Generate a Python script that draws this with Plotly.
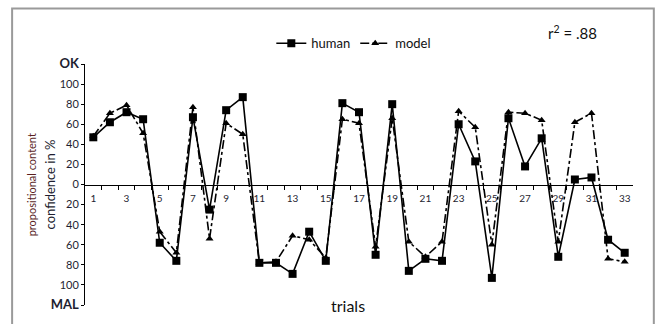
import plotly.graph_objects as go

trials = list(range(1, 34))
human = [47, 62, 72, 65, -58, -76, 67, -25, 74, 87, -78, -78, -89, -47, -76, 81, 72, -70,
         80, -86, -74, -76, 60, 23, -93, 66, 18, 46, -72, 5, 7, -55, -68]
model = [48, 71, 79, 51, -47, -68, 77, -54, 61, 50, -78, -77, -51, -55, -73, 65, 61, -62,
         66, -57, -72, -57, 73, 57, -60, 72, 71, 64, -57, 62, 71, -74, -77]

y_tickvals = list(range(-120, 121, 20))
y_ticktext = ["<b><span style='font-size:13px'>MAL</span></b>", "100", "80", "60", "40", "20", "0",
              "20", "40", "60", "80", "100", "<b><span style='font-size:13px'>OK</span></b>"]
x_labels = list(range(1, 34, 2))
x_minor = [i + 0.5 for i in range(1, 33)]

FONT = "Lato, 'Open Sans', sans-serif"
TXT = "#1e1e30"

fig = go.Figure()
fig.add_trace(go.Scatter(
    x=trials, y=human, name="human", mode="lines+markers",
    line=dict(color="black", width=1.6),
    marker=dict(symbol="square", size=8, color="black"),
))
fig.add_trace(go.Scatter(
    x=trials, y=model, name="model", mode="lines+markers",
    line=dict(color="black", width=1.6, dash="dashdot"),
    marker=dict(symbol="triangle-up", size=7, color="black"),
))

fig.update_layout(
    width=657, height=324,
    margin=dict(l=85, r=24, t=64, b=17),
    paper_bgcolor="white", plot_bgcolor="white",
    font=dict(family=FONT, color=TXT, size=10),
    showlegend=True,
    legend=dict(orientation="h", x=0.34, y=1.086, xanchor="left", yanchor="middle",
                font=dict(size=13, color="#111"), itemwidth=30,
                bgcolor="rgba(0,0,0,0)"),
    xaxis=dict(
        range=[0.5, 33.5], anchor="free", position=0.5,
        showline=True, linecolor="black", linewidth=1,
        tickvals=x_labels, ticktext=[str(v) for v in x_labels],
        ticks="", showgrid=False, zeroline=False, ticklabelstandoff=4,
        tickfont=dict(size=10, color=TXT, family=FONT),
        minor=dict(tickvals=x_minor, ticks="outside", ticklen=4, tickcolor="black", showgrid=False),
    ),
    yaxis=dict(
        range=[-120, 120], showline=True, linecolor="black", linewidth=1,
        tickvals=y_tickvals, ticktext=y_ticktext, ticks="outside", ticklen=3,
        tickcolor="black", showgrid=False, zeroline=False,
        tickfont=dict(size=11, color=TXT, family=FONT),
    ),
    shapes=[dict(type="rect", xref="paper", yref="paper",
                 x0=-0.133, x1=1.038, y0=-0.2, y1=1.23,
                 line=dict(color="#9a9a9a", width=2), fillcolor="rgba(0,0,0,0)")],
    annotations=[
        dict(text="trials", xref="paper", yref="paper", x=0.48, y=0.0, yanchor="middle",
             showarrow=False, font=dict(size=16, color="#111", family=FONT)),
        dict(text="r<sup>2</sup> = .88", xref="paper", yref="paper", x=0.89, y=1.13,
             xanchor="center", yanchor="middle", showarrow=False,
             font=dict(size=15, color="#111", family=FONT)),
        dict(text="propositional content", xref="paper", yref="paper", x=-0.097, y=0.5,
             xanchor="center", yanchor="middle", textangle=-90, showarrow=False,
             font=dict(size=11, color="#5a1f1f", family=FONT)),
        dict(text="confidence in %", xref="paper", yref="paper", x=-0.064, y=0.5,
             xanchor="center", yanchor="middle", textangle=-90, showarrow=False,
             font=dict(size=13, color=TXT, family=FONT)),
    ],
)

fig.write_html("out.html")
